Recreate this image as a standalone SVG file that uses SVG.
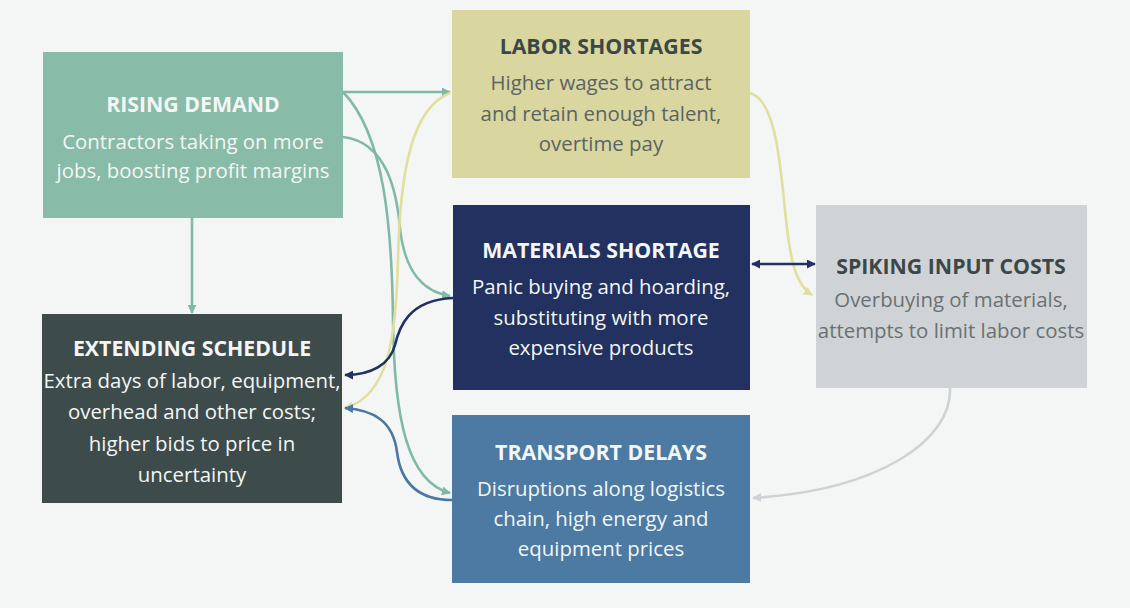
<svg xmlns="http://www.w3.org/2000/svg" width="1130" height="608" viewBox="0 0 1130 608">
<defs>
<style>
.t{font-family:"Open Sans","Liberation Sans",sans-serif;font-size:21.3px;font-weight:700;text-anchor:middle}
.b{font-family:"Open Sans","Liberation Sans",sans-serif;font-size:20.4px;text-anchor:middle}
.lt{fill:#f3f6f4}
.dk{fill:#3d4747}
.dkb{fill:#5b6363}
.c{fill:none;stroke-width:2.6}
.teal{stroke:#80b9a6}
.yel{stroke:#e0df9e}
.navy{stroke:#22315f}
.blue{stroke:#4b78a2}
.gray{stroke:#cdd2d5}
</style>
<marker id="mTeal" viewBox="0 0 10 10" refX="9" refY="5" markerWidth="9" markerHeight="9" markerUnits="userSpaceOnUse" orient="auto-start-reverse"><path d="M0,0 L10,5 L0,10 z" fill="#80b9a6"/></marker>
<marker id="mYel" viewBox="0 0 10 10" refX="9" refY="5" markerWidth="9" markerHeight="9" markerUnits="userSpaceOnUse" orient="auto-start-reverse"><path d="M0,0 L10,5 L0,10 z" fill="#e0df9e"/></marker>
<marker id="mNavy" viewBox="0 0 10 10" refX="9" refY="5" markerWidth="9" markerHeight="9" markerUnits="userSpaceOnUse" orient="auto-start-reverse"><path d="M0,0 L10,5 L0,10 z" fill="#22315f"/></marker>
<marker id="mBlue" viewBox="0 0 10 10" refX="9" refY="5" markerWidth="9" markerHeight="9" markerUnits="userSpaceOnUse" orient="auto-start-reverse"><path d="M0,0 L10,5 L0,10 z" fill="#4b78a2"/></marker>
<marker id="mGray" viewBox="0 0 10 10" refX="9" refY="5" markerWidth="9" markerHeight="9" markerUnits="userSpaceOnUse" orient="auto-start-reverse"><path d="M0,0 L10,5 L0,10 z" fill="#cdd2d5"/></marker>
</defs>
<rect width="1130" height="608" fill="#f4f6f6"/>

<g id="rising-demand">
<rect x="43" y="52" width="300" height="166" fill="#89bba9"/>
<text class="t lt" x="193" y="112">RISING DEMAND</text>
<text class="b lt" x="193" y="149">Contractors taking on more</text>
<text class="b lt" x="193" y="178">jobs, boosting profit margins</text>
</g>

<g id="labor-shortages">
<rect x="452" y="10" width="298" height="168" fill="#d9d69f"/>
<text class="t dk" x="601" y="54">LABOR SHORTAGES</text>
<text class="b dkb" x="601" y="90">Higher wages to attract</text>
<text class="b dkb" x="601" y="121">and retain enough talent,</text>
<text class="b dkb" x="601" y="151">overtime pay</text>
</g>

<g id="materials-shortage">
<rect x="453" y="205" width="297" height="185" fill="#22315f"/>
<text class="t lt" x="601" y="258">MATERIALS SHORTAGE</text>
<text class="b lt" x="601" y="294">Panic buying and hoarding,</text>
<text class="b lt" x="601" y="325">substituting with more</text>
<text class="b lt" x="601" y="355">expensive products</text>
</g>

<g id="spiking-input-costs">
<rect x="816" y="205" width="271" height="183" fill="#cfd3d6"/>
<text class="t dk" x="951" y="274">SPIKING INPUT COSTS</text>
<text class="b" fill="#6a7171" x="951" y="307">Overbuying of materials,</text>
<text class="b" fill="#6a7171" x="951" y="338">attempts to limit labor costs</text>
</g>

<g id="extending-schedule">
<rect x="42" y="314" width="300" height="189" fill="#3e4b4b"/>
<text class="t lt" x="192" y="356">EXTENDING SCHEDULE</text>
<text class="b lt" x="192" y="388">Extra days of labor, equipment,</text>
<text class="b lt" x="192" y="419">overhead and other costs;</text>
<text class="b lt" x="192" y="451">higher bids to price in</text>
<text class="b lt" x="192" y="482">uncertainty</text>
</g>

<g id="transport-delays">
<rect x="452" y="415" width="298" height="168" fill="#4c7aa2"/>
<text class="t lt" x="601" y="460">TRANSPORT DELAYS</text>
<text class="b lt" x="601" y="496">Disruptions along logistics</text>
<text class="b lt" x="601" y="526">chain, high energy and</text>
<text class="b lt" x="601" y="556">equipment prices</text>
</g>

<g id="connectors">
<path class="c teal" d="M343,92 L450,92" marker-end="url(#mTeal)"/>
<path class="c teal" d="M343,92 C385,135 392,230 393,320 C394,420 408,482 450,493" marker-end="url(#mTeal)"/>
<path class="c teal" d="M343,137 C388,142 397,195 400,228 C405,275 425,292 450,296" marker-end="url(#mTeal)"/>
<path class="c teal" d="M192,218 L192,313" marker-end="url(#mTeal)"/>
<path class="c yel" d="M450,93 C412,108 400,170 398,260 C396,340 388,396 345,408" marker-end="url(#mYel)"/>
<path class="c yel" d="M750,93 C775,100 780,160 785,210 C790,262 796,285 812,295" marker-end="url(#mYel)"/>
<path class="c navy" d="M453,298 C408,300 399,328 395,345 C390,364 372,375 345,375" marker-end="url(#mNavy)"/>
<path class="c blue" d="M452,500 C412,500 400,476 397,452 C393,420 372,410 345,408" marker-end="url(#mBlue)"/>
<path class="c navy" d="M752,264 L815,264" marker-start="url(#mNavy)" marker-end="url(#mNavy)"/>
<path class="c gray" d="M950,388 C952,440 880,490 753,498" marker-end="url(#mGray)"/>
</g>
</svg>
